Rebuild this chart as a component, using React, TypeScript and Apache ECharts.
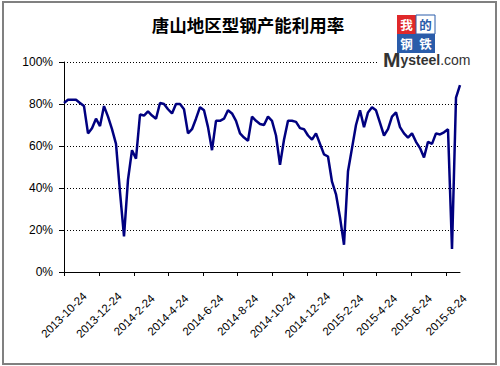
import React, { useEffect, useRef } from "react";
import * as echarts from "echarts";

const TITLE = "唐山地区型钢产能利用率";
const START = "2013-10-24";
// weekly capacity utilization (%), one value per week starting 2013-10-24
const values: number[] = [
  80.5, 82, 82, 82, 80.5, 79, 66, 68.5, 73, 69.5,
  79, 74, 68, 61, 38, 17, 44, 58, 54, 75,
  74.5, 76.5, 74.5, 73, 80.5, 80, 77.5, 75.5, 80, 80,
  77.5, 66, 68, 73, 78.5, 77, 69, 58, 72, 72,
  73, 77, 75.5, 72, 66, 64, 62.5, 74, 72, 70.5,
  70, 74, 72, 65, 51, 63, 72, 72, 71.5, 68.5,
  68, 65, 63, 66, 61, 56, 55, 43, 37, 26,
  13, 48, 59, 70, 77, 69, 76, 78.5, 77, 71,
  65, 68, 74, 76, 69, 66, 64, 66, 62, 59,
  54.5, 62, 61, 66, 65.5, 66.5, 68, 11, 83, 89,
];
const tickLabels = [
  "2013-10-24", "2013-12-24", "2014-2-24", "2014-4-24", "2014-6-24", "2014-8-24",
  "2014-10-24", "2014-12-24", "2015-2-24", "2015-4-24", "2015-6-24", "2015-8-24",
];
const yTicks = [0, 20, 40, 60, 80, 100];
const logoChars = ["我", "的", "钢", "铁"];

function parseDate(s: string): number {
  const [y, m, d] = s.split("-").map(Number);
  return Date.UTC(y, m - 1, d);
}
const DAY = 86400000;

export default function App() {
  const ref = useRef<HTMLDivElement>(null);
  useEffect(() => {
    document.body.style.margin = "0";
    if (!ref.current) return;
    const chart = echarts.init(ref.current, undefined, { renderer: "svg" });
    const t0 = parseDate(START);
    // day offset of each weekly observation
    const days = values.map((_, i) => i * 7);
    const tickDays = tickLabels.map((s) => Math.round((parseDate(s) - t0) / DAY));
    const font = "'Liberation Sans', Arial, sans-serif";
    const cjk = "'Noto Sans CJK SC', sans-serif";
    const cell = { width: 19, height: 19, lineHeight: 19, align: "center", fontSize: 12.5, fontWeight: "bold", fontFamily: cjk };
    chart.setOption({
      animation: false,
      backgroundColor: "#ffffff",
      grid: { left: 64, right: 40, top: 62, bottom: 94, outerBoundsMode: "none", containLabel: false },
      xAxis: {
        type: "value",
        min: 0,
        max: days[days.length - 1],
        axisLine: { show: true, onZero: false, lineStyle: { color: "#000", width: 1 } },
        axisTick: { show: true, length: 4, customValues: tickDays, lineStyle: { color: "#000" } },
        axisLabel: {
          customValues: tickDays,
          rotate: 45,
          align: "center",
          verticalAlign: "middle",
          margin: 43,
          fontSize: 11.5,
          fontFamily: font,
          color: "#000",
          formatter: (v: number) => {
            const idx = tickDays.indexOf(v);
            return idx >= 0 ? tickLabels[idx] : "";
          },
        },
        splitLine: { show: false },
      },
      yAxis: {
        type: "value",
        min: yTicks[0],
        max: yTicks[yTicks.length - 1],
        interval: 20,
        axisLine: { show: true, lineStyle: { color: "#000", width: 1 } },
        axisTick: { show: true, length: 5, lineStyle: { color: "#000" } },
        axisLabel: { formatter: "{value}%", fontSize: 12, fontFamily: font, color: "#000", margin: 11 },
        splitLine: { show: true, lineStyle: { color: "#000", width: 1, type: [1, 2] } },
      },
      series: [
        {
          type: "line",
          data: days.map((d, i) => [d, values[i]]),
          showSymbol: false,
          symbol: "none",
          lineStyle: { color: "#000080", width: 2.5 },
          itemStyle: { color: "#000080" },
        },
      ],
      graphic: [
        {
          type: "rect",
          z: 100,
          shape: { x: 3, y: 2, width: 493, height: 362 },
          style: { fill: "none", stroke: "#808080", lineWidth: 2 },
        },
        {
          type: "text",
          z: 100,
          x: 248,
          y: 24,
          style: {
            text: TITLE,
            fontSize: 17.5,
            fontWeight: "bold",
            fontFamily: cjk,
            fill: "#000",
            align: "center",
            verticalAlign: "middle",
          },
        },
        {
          type: "rect",
          z: 100,
          shape: { x: 377, y: 12, width: 100, height: 60 },
          style: { fill: "#fff" },
        },
        {
          type: "rect",
          z: 101,
          shape: { x: 397, y: 15, width: 19, height: 19 },
          style: { fill: "#e0282a" },
        },
        {
          type: "rect",
          z: 101,
          shape: { x: 416, y: 15, width: 19, height: 19 },
          style: { fill: "#ffffff", stroke: "#2a5caa", lineWidth: 1 },
        },
        {
          type: "rect",
          z: 101,
          shape: { x: 397, y: 34, width: 38, height: 19 },
          style: { fill: "#2a5caa" },
        },
        {
          type: "text",
          z: 102,
          x: 397,
          y: 15,
          style: {
            text: `{w|${logoChars[0]}}{b|${logoChars[1]}}\n{w|${logoChars[2]}}{w|${logoChars[3]}}`,
            align: "left",
            verticalAlign: "top",
            rich: {
              w: { ...cell, fill: "#fff" },
              b: { ...cell, fill: "#2a5caa" },
            },
          },
        },
        {
          type: "text",
          z: 103,
          x: 383,
          y: 70,
          style: {
            text: "{a|M}{b|ysteel}{c|.com}",
            verticalAlign: "bottom",
            align: "left",
            fill: "#333",
            rich: {
              a: { fontSize: 21, fontWeight: "bold", fontFamily: font, fill: "#333" },
              b: { fontSize: 14, fontWeight: "bold", fontFamily: font, fill: "#333" },
              c: { fontSize: 14, fontFamily: font, fill: "#333" },
            },
          },
        },
      ],
    });
    return () => chart.dispose();
  }, []);
  return <div ref={ref} style={{ width: 500, height: 366 }} />;
}
